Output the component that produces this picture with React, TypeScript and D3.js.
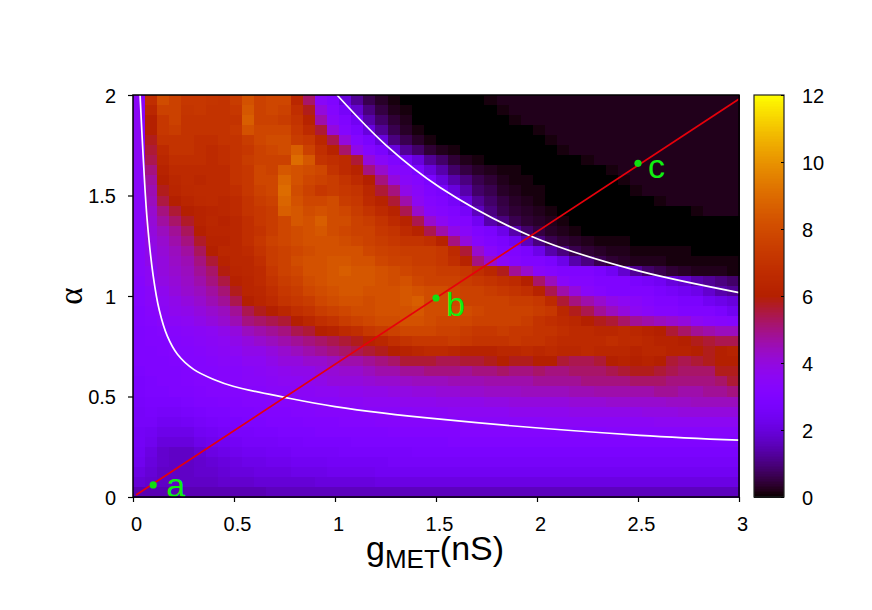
import React, { useEffect, useRef } from 'react'
import * as d3 from 'd3'

const xTicks = [0, 0.5, 1, 1.5, 2, 2.5, 3]
const yTicks = [0, 0.5, 1, 1.5, 2]
const barTicks = [0, 2, 4, 6, 8, 10, 12]

// firing rate, in tenths. top row is alpha = 2, columns go g = 0 -> 3
const rateRows: number[][] = [
  [35,68,80,76,72,72,71,70,74,82,76,78,78,64,52,34,30,20,12,6,3,1,0,0,0,0,0,0,0,1,2,2,2,2,2,2,2,2,2,2,2,2,2,2,2,2,2,2,2,2],
  [35,64,76,76,71,72,70,70,72,84,76,78,76,68,58,40,32,26,18,10,5,2,1,0,0,0,0,0,0,0,1,2,2,2,2,2,2,2,2,2,2,2,2,2,2,2,2,2,2,2],
  [35,60,72,76,70,70,70,70,70,86,76,76,74,70,62,46,34,30,24,14,8,4,2,0,0,0,0,0,0,0,0,1,2,2,2,2,2,2,2,2,2,2,2,2,2,2,2,2,2,2],
  [35,60,72,74,70,70,70,70,72,82,78,78,78,72,66,56,40,32,28,20,12,6,3,1,0,0,0,0,0,0,0,0,0,1,2,2,2,2,2,2,2,2,2,2,2,2,2,2,2,2],
  [35,58,70,70,70,68,68,70,70,74,78,80,80,74,72,64,54,40,32,28,20,10,6,3,1,0,0,0,0,0,0,0,0,0,1,2,2,2,2,2,2,2,2,2,2,2,2,2,2,2],
  [35,56,66,70,70,68,66,68,70,72,76,78,80,86,76,68,62,52,38,32,28,20,12,8,4,2,1,0,0,0,0,0,0,0,0,1,2,2,2,2,2,2,2,2,2,2,2,2,2,2],
  [35,54,64,68,68,68,66,68,70,74,76,76,76,90,84,70,68,66,56,40,34,30,26,20,12,8,4,2,1,0,0,0,0,0,0,0,0,1,2,2,2,2,2,2,2,2,2,2,2,2],
  [34,50,62,66,66,66,66,66,70,72,78,76,84,82,80,78,70,66,62,50,42,34,32,28,20,14,8,5,3,2,1,1,0,0,0,0,0,0,0,1,2,2,2,2,2,2,2,2,2,2],
  [34,47,60,64,66,64,66,66,70,72,78,78,88,82,78,76,74,70,66,60,50,40,34,32,28,20,14,10,6,4,2,1,1,0,0,0,0,0,0,0,1,2,2,2,2,2,2,2,2,2],
  [34,45,58,63,65,66,66,66,68,72,76,78,90,80,76,72,74,72,70,64,56,50,38,34,30,28,20,14,8,6,3,2,1,1,0,0,0,0,0,0,0,1,2,2,2,2,2,2,2,2],
  [34,44,55,60,63,65,66,64,66,70,74,76,88,82,78,78,80,74,72,66,62,56,46,36,32,30,26,20,12,8,5,3,2,1,0,0,0,0,0,0,0,0,0,1,2,2,2,2,2,2],
  [34,42,50,56,60,62,63,64,66,70,72,74,86,84,80,82,80,78,74,70,66,62,54,42,34,32,30,26,16,10,6,4,3,2,1,0,0,0,0,0,0,0,0,0,0,0,1,2,2,2],
  [34,41,47,52,57,62,64,62,64,68,72,74,78,84,82,86,80,80,76,74,70,66,62,54,42,36,32,31,24,14,10,6,4,3,2,1,0,0,0,0,0,0,0,0,0,0,0,0,0,0],
  [34,40,44,48,53,60,63,63,64,68,70,74,78,80,82,84,80,78,76,76,72,70,66,62,54,46,38,34,30,28,22,14,8,5,3,2,1,0,0,0,0,0,0,0,0,0,0,0,0,0],
  [34,39,42,46,50,57,62,62,64,68,72,76,78,80,82,82,82,80,78,76,74,72,70,70,68,62,50,40,33,30,28,24,16,10,6,4,3,2,1,1,1,0,0,0,0,0,0,0,0,0],
  [34,38,41,44,47,53,60,64,64,66,70,74,76,78,80,82,82,82,82,78,76,75,74,74,74,72,66,56,42,34,30,30,28,22,14,10,6,4,3,2,2,1,1,1,1,1,0,0,0,0],
  [34,38,40,43,45,50,56,62,64,64,68,74,76,80,82,82,84,84,82,82,78,76,76,74,74,72,68,62,50,42,34,32,30,30,28,22,14,10,6,4,3,2,2,2,1,1,1,1,1,1],
  [34,36,40,42,44,48,52,59,63,64,66,72,76,78,82,82,84,86,84,84,82,80,78,76,76,74,74,72,68,64,58,48,42,34,32,30,30,30,28,24,18,12,8,6,4,3,2,2,2,1],
  [33,36,39,41,43,46,50,55,61,63,66,70,74,76,80,82,84,84,84,84,82,80,82,78,76,76,76,74,72,70,68,66,60,52,44,34,32,32,30,30,30,28,26,24,20,18,14,12,10,8],
  [32,34,37,40,42,44,47,51,58,63,64,68,72,74,78,80,82,84,84,82,82,82,84,82,80,80,78,76,76,74,72,70,68,62,54,46,40,34,32,30,30,30,30,28,26,24,22,18,14,12],
  [32,34,36,38,40,42,45,48,54,60,63,66,70,72,74,78,80,82,82,80,82,82,84,86,80,80,78,76,76,76,76,74,74,72,66,56,50,46,42,38,36,34,32,30,30,28,28,24,22,20],
  [31,33,35,37,38,40,42,44,48,54,58,60,64,68,70,74,76,78,80,80,82,82,82,84,80,80,80,80,78,76,76,76,76,74,72,64,58,54,48,44,40,36,34,32,32,30,30,30,28,24],
  [31,32,34,35,36,38,40,42,45,50,52,54,56,60,64,68,70,74,76,78,80,80,82,82,80,78,78,78,76,76,76,76,74,70,68,66,64,60,58,56,52,48,46,44,42,40,36,34,33,32],
  [30,31,32,33,34,35,36,38,40,44,46,48,50,54,56,60,62,66,68,72,74,76,78,78,78,76,76,74,72,72,74,72,72,70,70,68,66,66,64,64,66,64,62,60,56,52,48,46,44,44],
  [30,31,31,32,33,34,35,36,38,40,42,44,46,48,50,52,54,56,58,62,64,68,70,72,72,72,74,72,70,70,70,72,70,70,68,66,66,66,66,68,66,66,64,62,62,60,58,56,54,54],
  [30,30,31,32,32,33,34,35,36,38,38,40,42,44,46,48,50,52,54,56,58,60,62,64,66,66,64,62,62,62,64,64,66,64,66,64,64,66,64,64,64,62,64,64,62,62,60,58,60,62],
  [30,30,30,31,32,32,33,34,34,36,36,38,40,40,42,42,44,46,46,48,50,52,56,56,56,54,54,56,56,58,60,58,58,60,60,56,54,54,56,60,62,60,62,60,56,54,56,58,60,60],
  [29,30,30,30,31,32,32,33,33,34,35,36,37,38,38,40,41,42,42,44,46,46,48,48,50,50,50,48,50,50,52,50,50,52,50,50,52,52,52,54,56,58,58,56,54,52,52,52,58,58],
  [28,29,30,30,31,32,32,33,33,34,34,35,36,36,37,38,40,40,40,41,42,42,43,44,44,44,45,45,45,46,46,46,46,48,48,48,48,50,50,50,50,52,52,52,50,50,50,50,52,56],
  [28,29,29,30,30,31,32,32,32,33,33,34,34,35,35,36,36,37,37,38,38,39,39,40,40,41,41,42,42,43,43,43,44,44,44,44,45,45,46,46,46,46,46,48,48,46,46,48,48,50],
  [27,28,28,28,29,30,30,31,31,32,32,33,33,33,34,34,34,35,35,36,36,36,37,37,37,38,38,38,38,39,39,40,40,40,40,40,41,41,41,42,42,42,42,42,43,43,44,44,44,44],
  [26,27,26,26,27,28,29,29,30,30,31,31,31,32,32,33,33,33,33,34,34,34,34,35,35,35,36,36,36,36,36,37,37,37,37,37,38,38,38,38,38,38,39,39,39,40,40,40,40,40],
  [26,26,24,24,25,26,27,28,28,29,29,30,30,30,31,31,31,32,32,32,33,33,33,33,33,33,33,34,34,34,34,34,34,34,35,35,35,35,35,35,35,35,35,36,36,36,36,36,36,36],
  [25,24,22,22,22,24,25,26,27,27,28,28,29,29,29,30,30,30,30,30,30,31,31,31,31,31,31,32,32,32,32,32,32,32,32,32,32,32,32,33,33,33,33,33,33,33,33,33,33,33],
  [25,23,20,20,20,22,23,24,25,26,26,26,27,27,28,28,28,28,29,29,29,29,29,29,29,29,30,30,30,30,30,30,30,30,30,30,30,30,30,30,30,30,30,30,30,30,30,30,30,30],
  [24,21,18,17,17,19,21,22,23,24,24,25,25,26,26,26,26,27,27,27,27,27,27,28,28,28,28,28,28,28,28,28,28,28,28,28,28,28,28,28,28,28,28,28,28,28,28,28,28,28],
  [23,20,18,17,17,18,19,20,21,22,22,23,23,24,24,24,25,25,25,25,25,26,26,26,26,26,26,26,26,26,26,26,26,26,26,26,26,26,26,26,26,26,26,26,26,26,26,26,26,26],
  [21,19,17,17,17,18,18,19,20,20,21,21,21,22,22,22,23,23,23,23,24,24,24,24,24,24,24,24,24,24,24,24,24,24,24,24,24,24,24,24,24,24,24,24,24,24,24,24,24,24],
  [19,18,17,17,17,17,17,18,18,18,19,19,19,19,19,20,20,20,20,20,21,21,21,21,21,21,21,21,21,21,21,21,21,21,21,21,21,21,21,21,21,21,21,21,21,21,21,21,21,21],
  [15,15,15,15,15,15,15,15,15,15,15,16,16,16,16,16,16,16,16,16,16,16,16,16,16,16,16,16,16,16,16,16,16,16,16,16,16,16,16,16,16,16,16,16,16,16,16,16,16,16],
]

// white contours, [g, alpha]
const lowerCurve = [
  [0.035, 2], [0.05, 1.7], [0.07, 1.38], [0.1, 1.1], [0.13, 0.93], [0.17, 0.8], [0.22, 0.71], [0.3, 0.635],
  [0.4, 0.585], [0.5, 0.55], [0.75, 0.496], [1, 0.45], [1.52, 0.387], [2.51, 0.307], [3, 0.283],
]
const upperCurve = [
  [1.01, 2], [1.256, 1.747], [1.52, 1.54], [1.965, 1.3], [2.46, 1.136], [3, 1.017],
]
const redLine = [[0.015, 0.01], [3, 1.98]]
const points = [
  { name: 'a', g: 0.1, alpha: 0.06 },
  { name: 'b', g: 1.5, alpha: 0.99 },
  { name: 'c', g: 2.5, alpha: 1.66 },
]
const labelOffsets: Record<string, number[]> = { a: [13, 12], b: [10, 18], c: [10, 15] }

const FONT = '"Liberation Sans", Arial, sans-serif'

// gnuplot's default palette, rgbformulae 7,5,15
const palette = (v: number) => {
  const t = Math.max(0, Math.min(1, v / 12))
  const r = Math.sqrt(t)
  const g = t * t * t
  const b = Math.max(0, Math.sin(2 * Math.PI * t))
  return d3.rgb(r * 255, g * 255, b * 255).formatHex()
}

const App = () => {
  const svgRef = useRef<SVGSVGElement>(null)

  useEffect(() => {
    const svg = d3.select(svgRef.current)
    svg.selectAll('*').remove()

    const xScale = d3.scaleLinear().domain([0, 3]).range([133, 739])
    const yScale = d3.scaleLinear().domain([0, 2]).range([497, 95])
    const barScale = d3.scaleLinear().domain([0, 12]).range([497, 95])

    const colBand = d3.scaleBand<number>().domain(d3.range(rateRows[0].length)).range([133, 739])
    const rowBand = d3.scaleBand<number>().domain(d3.range(rateRows.length)).range([95, 497])

    // heat map
    svg.append('g')
      .attr('shape-rendering', 'crispEdges')
      .selectAll('g')
      .data(rateRows)
      .join('g')
      .attr('transform', (_, i) => `translate(0,${rowBand(i)})`)
      .selectAll('rect')
      .data(row => row)
      .join('rect')
      .attr('x', (_, i) => colBand(i)!)
      .attr('width', colBand.bandwidth() + 0.5)
      .attr('height', rowBand.bandwidth() + 0.5)
      .attr('fill', d => palette(d / 10))

    const smooth = d3.line<number[]>()
      .x(d => xScale(d[0]))
      .y(d => yScale(d[1]))
      .curve(d3.curveCatmullRom.alpha(0.5))

    svg.append('path').attr('d', smooth(lowerCurve))
      .attr('fill', 'none').attr('stroke', '#fff').attr('stroke-width', 1.7)
    svg.append('path').attr('d', smooth(upperCurve))
      .attr('fill', 'none').attr('stroke', '#fff').attr('stroke-width', 1.7)
    svg.append('path').attr('d', d3.line<number[]>().x(d => xScale(d[0])).y(d => yScale(d[1]))(redLine))
      .attr('fill', 'none').attr('stroke', '#e6000b').attr('stroke-width', 1.7)

    // marked points
    svg.selectAll('circle.pt')
      .data(points)
      .join('circle')
      .attr('class', 'pt')
      .attr('cx', d => xScale(d.g))
      .attr('cy', d => yScale(d.alpha))
      .attr('r', 3.6)
      .attr('fill', '#10e010')
    svg.selectAll('text.pt')
      .data(points)
      .join('text')
      .attr('class', 'pt')
      .attr('x', d => xScale(d.g) + labelOffsets[d.name][0])
      .attr('y', d => yScale(d.alpha) + labelOffsets[d.name][1])
      .attr('font-family', FONT)
      .attr('font-size', 34)
      .attr('fill', '#10f010')
      .text(d => d.name)

    // frame + axes
    svg.append('rect')
      .attr('x', 133).attr('y', 95).attr('width', 606).attr('height', 402)
      .attr('fill', 'none').attr('stroke', '#000').attr('stroke-width', 1.5)

    const xAxis = svg.append('g').attr('transform', 'translate(0,497)')
      .call(d3.axisBottom(xScale).tickValues(xTicks).tickSize(5).tickFormat(d3.format('~g') as any))
    const yAxis = svg.append('g').attr('transform', 'translate(133,0)')
      .call(d3.axisLeft(yScale).tickValues(yTicks).tickSize(5).tickFormat(d3.format('~g') as any))
    ;[xAxis, yAxis].forEach(axis => {
      axis.select('.domain').remove()
      axis.selectAll('line').attr('stroke', '#000').attr('stroke-width', 1.2)
      axis.selectAll('text').attr('font-family', FONT).attr('font-size', 20).attr('fill', '#000')
    })
    xAxis.selectAll('text').attr('y', 15).attr('dy', '0.95em').attr('dx', 3)
    yAxis.selectAll('text').attr('x', -17).attr('dy', '0.35em')

    // colorbar
    const barSteps = d3.range(0, 12, 0.05)
    svg.append('g')
      .attr('shape-rendering', 'crispEdges')
      .selectAll('rect')
      .data(barSteps)
      .join('rect')
      .attr('x', 754)
      .attr('width', 30)
      .attr('y', d => barScale(d + 0.05))
      .attr('height', barScale(0) - barScale(0.05) + 0.5)
      .attr('fill', d => palette(d))
    svg.append('rect')
      .attr('x', 754).attr('y', 95).attr('width', 30).attr('height', 402)
      .attr('fill', 'none').attr('stroke', '#222').attr('stroke-width', 1.2)
    const barAxis = svg.append('g').attr('transform', 'translate(784,0)')
      .call(d3.axisRight(barScale).tickValues(barTicks).tickSize(-3).tickPadding(18).tickFormat(d3.format('d') as any))
    barAxis.select('.domain').remove()
    barAxis.selectAll('line').attr('stroke', '#000').attr('stroke-width', 1)
    barAxis.selectAll('text').attr('font-family', FONT).attr('font-size', 20).attr('fill', '#000').attr('x', 18).attr('dy', '0.35em')

    // axis titles
    const xTitle = svg.append('text').attr('x', 366).attr('y', 560)
      .attr('font-family', FONT).attr('font-size', 34).attr('fill', '#000')
    xTitle.append('tspan').text('g')
    xTitle.append('tspan').attr('font-size', 26).attr('dy', 8).text('MET')
    xTitle.append('tspan').attr('dy', -8).text('(nS)')

    svg.append('text')
      .attr('transform', 'translate(82,296) rotate(-90)')
      .attr('text-anchor', 'middle')
      .attr('font-family', '"Liberation Serif", serif')
      .attr('font-size', 33)
      .attr('fill', '#000')
      .text('α')
  }, [])

  return (
    <svg
      ref={svgRef}
      width={872}
      height={610}
      style={{ position: 'absolute', left: 0, top: 0, background: '#fff' }}
    />
  )
}

export default App
